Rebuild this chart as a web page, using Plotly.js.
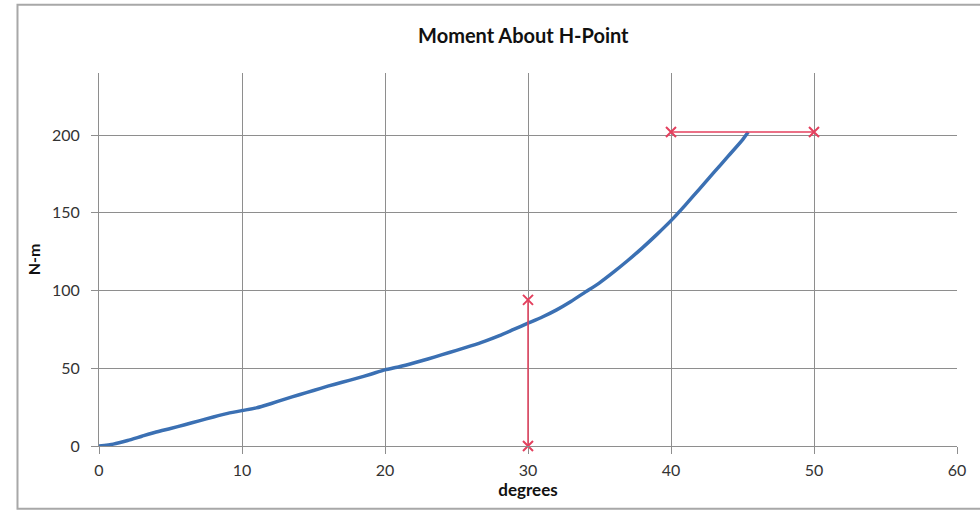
<!DOCTYPE html>
<html>
<head>
<meta charset="utf-8">
<script src="https://cdn.plot.ly/plotly-3.0.1.min.js"></script>
<style>html,body{margin:0;padding:0;background:#fff;}#chart{width:980px;height:513px;}</style>
</head>
<body>
<div id="chart"></div>
<script>
// Blue curve: moment vs angle
const angleDeg = [0, 1, 2, 3, 4, 5, 6, 7, 8, 9, 10, 11, 12, 13, 14, 15, 16, 17, 18, 19, 20, 21, 22, 23, 24, 25, 26, 27, 28, 29, 30, 31, 32, 33, 34, 35, 36, 37, 38, 39, 40, 41, 42, 43, 44, 45, 45.4];
const momentNm = [0, 1.2, 3.5, 6.3, 9, 11.3, 13.7, 16.2, 18.7, 21, 22.8, 24.5, 27.2, 30.2, 33, 35.7, 38.5, 41, 43.5, 46.2, 49, 51, 53.4, 56, 58.8, 61.5, 64.4, 67.5, 71, 75, 79, 83, 87.6, 93, 99, 105, 112, 119.5, 127.5, 136, 145, 155, 165.5, 176, 186.5, 197, 202];
// Red limit markers
const limitVx = [30, 30];
const limitVy = [0, 94];
const limitHx = [40, 50];
const limitHy = [202, 202];
const xTicks = [0, 10, 20, 30, 40, 50, 60];
const yTicks = [0, 50, 100, 150, 200];

const font = "Lato, 'Open Sans', sans-serif";
const red = '#e4405e';

const traces = [
  {x: angleDeg, y: momentNm, mode: 'lines', line: {color: '#3b70b3', width: 3.5, shape: 'spline', smoothing: 0.6}, hoverinfo: 'x+y'},
  {x: limitVx, y: limitVy, mode: 'lines+markers', line: {color: red, width: 1.5}, cliponaxis: false,
   marker: {symbol: 'x-thin', size: 10, line: {color: red, width: 2}}},
  {x: limitHx, y: limitHy, mode: 'lines+markers', line: {color: red, width: 1.5}, cliponaxis: false,
   marker: {symbol: 'x-thin', size: 10, line: {color: red, width: 2}}}
];

const layout = {
  width: 980, height: 513,
  margin: {l: 99, r: 23, t: 73, b: 67},
  paper_bgcolor: '#fff', plot_bgcolor: '#fff',
  showlegend: false,
  font: {family: font, color: '#333', size: 16},
  title: {text: '<b>Moment About H-Point</b>', x: 0.534, xref: 'container', y: 0.93, yref: 'container', yanchor: 'middle',
          font: {family: font, size: 20, color: '#111'}},
  xaxis: {
    range: [0, 60], tickvals: xTicks, ticktext: xTicks.map(String),
    showgrid: true, gridcolor: '#8e8e8e', gridwidth: 1,
    zeroline: false, showline: true, linecolor: '#8e8e8e', linewidth: 1,
    ticks: 'outside', ticklen: 7, tickcolor: '#8e8e8e', ticklabelstandoff: 3,
    tickfont: {family: font, size: 16, color: '#333'},
    title: {text: '<b>degrees</b>', standoff: 0, font: {family: font, size: 17, color: '#111'}}
  },
  yaxis: {
    range: [0, 240], tickvals: yTicks, ticktext: yTicks.map(String),
    showgrid: true, gridcolor: '#8e8e8e', gridwidth: 1,
    zeroline: false, showline: true, linecolor: '#8e8e8e', linewidth: 1,
    ticks: 'outside', ticklen: 7, tickcolor: '#8e8e8e', ticklabelstandoff: 8,
    tickfont: {family: font, size: 16, color: '#333'},
    title: {text: '<b>N-m</b>', standoff: 7, font: {family: font, size: 16, color: '#111'}}
  },
  shapes: [
    {type: 'rect', xref: 'paper', yref: 'paper', x0: -0.095, x1: 1.04, y0: -0.168, y1: 1.183,
     line: {color: '#a8a8a8', width: 2}, layer: 'below'}
  ]
};

Plotly.newPlot('chart', traces, layout, {displayModeBar: false, staticPlot: true});
</script>
</body>
</html>
